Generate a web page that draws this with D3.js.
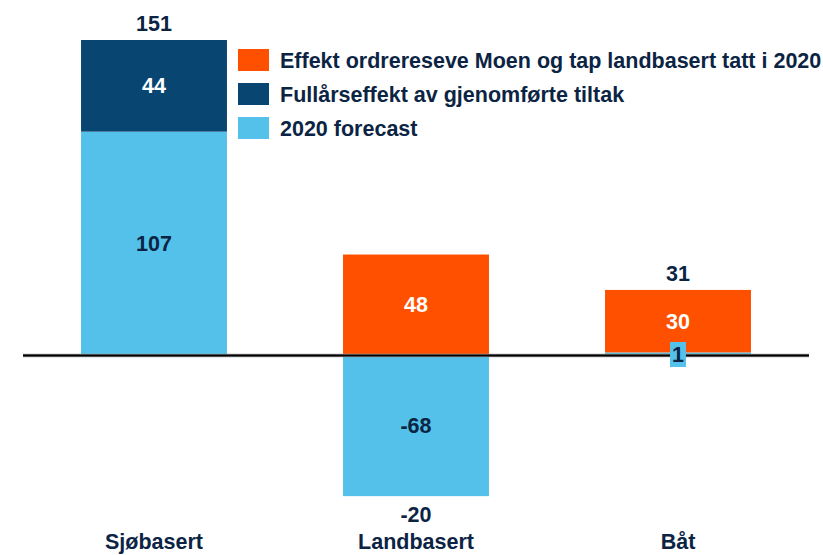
<!DOCTYPE html>
<html>
<head>
<meta charset="utf-8">
<script src="https://cdn.jsdelivr.net/npm/d3@7"></script>
<style>
  body { margin: 0; background: #fff; }
  text { font-family: Arial, "Liberation Sans", sans-serif; font-weight: bold; }
</style>
</head>
<body>
<div id="chart"></div>
<script>
// data
const categories = ['Sjøbasert', 'Landbasert', 'Båt']
const forecast2020 = [107, -68, 1]
const fullYearEffect = [44, 0, 0]
const orderEffect = [0, 48, 30]
const totals = [151, -20, 31]
const seriesNames = [
  'Effekt ordrereseve Moen og tap landbasert tatt i 2020',
  'Fullårseffekt av gjenomførte tiltak',
  '2020 forecast'
]

const W = 823, H = 555
const COLORS = { order: '#FF5000', full: '#084571', fc: '#53C1EA' }
const DARK = '#0C2443'
const FS = 21.5

const svg = d3.select('#chart').append('svg')
  .attr('width', W)
  .attr('height', H)

const rows = categories.map((c, i) => ({
  cat: c, fc: forecast2020[i], full: fullYearEffect[i], order: orderEffect[i], total: totals[i]
}))

// stack - forecast at the bottom, then full year effect, then order effect
const stack = d3.stack()
  .keys(['fc', 'full', 'order'])
  .offset(d3.stackOffsetDiverging)
const layers = stack(rows)

// scales
const x = d3.scaleBand()
  .domain(categories)
  .range([23, 809])
  .paddingInner(0.443)
  .paddingOuter(0.2215)

const y = d3.scaleLinear()
  .domain([0, 151])
  .range([354.5, 40])

// bars
layers.forEach(layer => {
  svg.append('g').selectAll('rect')
    .data(layer.filter(d => d[1] !== d[0]))
    .enter().append('rect')
      .attr('x', d => x(d.data.cat))
      .attr('width', x.bandwidth())
      .attr('y', d => y(Math.max(d[0], d[1])))
      .attr('height', d => Math.abs(y(d[0]) - y(d[1])))
      .attr('fill', COLORS[layer.key])
})

// zero line
svg.append('line')
  .attr('x1', x.range()[0]).attr('x2', x.range()[1])
  .attr('y1', y(0) + 1).attr('y2', y(0) + 1)
  .attr('stroke', '#999').attr('stroke-width', 3.5)
svg.append('line')
  .attr('x1', x.range()[0]).attr('x2', x.range()[1])
  .attr('y1', y(0) + 1).attr('y2', y(0) + 1)
  .attr('stroke', '#000').attr('stroke-width', 2)

// segment labels
layers.forEach(layer => {
  layer.filter(d => d[1] !== d[0]).forEach(d => {
    const cx = x(d.data.cat) + x.bandwidth() / 2
    let cy = (y(d[0]) + y(d[1])) / 2
    const small = Math.abs(y(d[0]) - y(d[1])) < 20
    if (small) {
      cy = y(0)
      svg.append('rect')
        .attr('x', cx - 8).attr('y', cy - 12.5)
        .attr('width', 16).attr('height', 25)
        .attr('fill', COLORS[layer.key])
    }
    svg.append('text')
      .attr('x', cx)
      .attr('y', cy + 7.5)
      .attr('text-anchor', 'middle')
      .attr('font-size', FS)
      .attr('fill', layer.key === 'fc' ? DARK : '#fff')
      .text(d.data[layer.key])
  })
})

// total labels
rows.forEach((r, i) => {
  const top = d3.max(layers, l => l[i][1])
  const bottom = d3.min(layers, l => l[i][0])
  const cx = x(r.cat) + x.bandwidth() / 2
  svg.append('text')
    .attr('x', cx)
    .attr('y', r.total < 0 ? y(bottom) + 26 : y(top) - 9)
    .attr('text-anchor', 'middle')
    .attr('font-size', FS)
    .attr('fill', DARK)
    .text(r.total)
})

// category labels
svg.append('g').selectAll('text')
  .data(categories)
  .enter().append('text')
    .attr('x', d => x(d) + x.bandwidth() / 2)
    .attr('y', 549)
    .attr('text-anchor', 'middle')
    .attr('font-size', FS)
    .attr('fill', DARK)
    .text(d => d)

// legend
const legendColors = [COLORS.order, COLORS.full, COLORS.fc]
const legend = svg.append('g').selectAll('g')
  .data(seriesNames)
  .enter().append('g')
    .attr('transform', (d, i) => `translate(238, ${49 + i * 34})`)
legend.append('rect')
  .attr('width', 31).attr('height', 22)
  .attr('fill', (d, i) => legendColors[i])
legend.append('text')
  .attr('x', 42)
  .attr('y', 18.5)
  .attr('font-size', FS)
  .attr('fill', DARK)
  .text(d => d)
</script>
</body>
</html>
